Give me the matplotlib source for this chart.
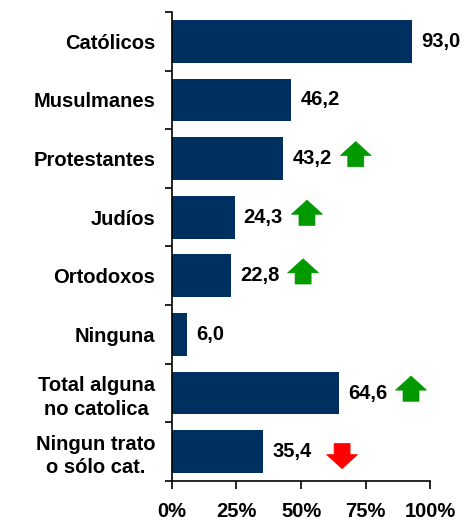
import numpy as np
import matplotlib.pyplot as plt
from matplotlib.patches import Polygon
from matplotlib.ticker import FixedLocator, NullFormatter

plt.rcParams['font.family'] = ['Liberation Sans', 'DejaVu Sans']
plt.rcParams['font.weight'] = 'bold'

categories = ["Católicos", "Musulmanes", "Protestantes", "Judíos", "Ortodoxos",
              "Ninguna", "Total alguna\nno catolica", "Ningun trato\no sólo cat."]
values = [93.0, 46.2, 43.2, 24.3, 22.8, 6.0, 64.6, 35.4]
# +1 up, -1 down, 0 no change marker
trend = [0, 0, 1, 1, 1, 0, 1, -1]
xticks = [0, 25, 50, 75, 100]

BAR = "#00305F"
UP = "#009900"
DOWN = "#FF0000"
FS = 14.5


def arrow(ax, xc, yc, up=True, color=UP):
    # arrow shape in data units: head 12 wide, stem 6.2 wide
    hw, sw = 6.0, 3.1
    hh, sh = 0.24, 0.19
    s = -1 if up else 1  # y axis inverted
    pts = [(xc, yc + s * hh),
           (xc - hw, yc),
           (xc - sw, yc),
           (xc - sw, yc - s * sh),
           (xc + sw, yc - s * sh),
           (xc + sw, yc),
           (xc + hw, yc)]
    ax.add_patch(Polygon(pts, closed=True, facecolor=color, edgecolor=color,
                         lw=0.5, zorder=3))


fig = plt.figure(figsize=(4.66, 5.2), dpi=100)
ax = fig.add_axes([0.369, 0.075, 0.554, 0.902])

y = np.arange(len(categories))
ax.barh(y, values, height=0.73, color=BAR, zorder=2)
ax.set_ylim(len(categories) - 0.5, -0.5)
ax.set_xlim(0, 100)

for yi, v, t in zip(y, values, trend):
    ax.text(v + 3.5, yi, f"{v:.1f}".replace(".", ","), va="center", ha="left",
            fontsize=FS, fontweight="bold")
    if t > 0:
        arrow(ax, v + 28, yi - 0.05, up=True, color=UP)
    elif t < 0:
        arrow(ax, v + 30.5, yi + 0.05, up=False, color=DOWN)

# category boundaries get the tick marks, labels sit between them
ax.yaxis.set_major_locator(FixedLocator(np.arange(-0.5, len(categories), 1.0)))
ax.yaxis.set_major_formatter(NullFormatter())
ax.yaxis.set_minor_locator(FixedLocator(y))
ax.set_yticklabels(categories, minor=True, fontsize=FS, fontweight="bold",
                   ha="right", multialignment="center", linespacing=1.3)
ax.tick_params(axis="y", which="minor", length=0, pad=12)
ax.tick_params(axis="y", which="major", length=5, width=1.2, direction="out")

ax.set_xticks(xticks)
ax.set_xticklabels([f"{t}%" for t in xticks], fontsize=FS, fontweight="bold")
ax.tick_params(axis="x", length=6, width=1.2, direction="out", pad=9)

for side in ("top", "right"):
    ax.spines[side].set_visible(False)
for side in ("left", "bottom"):
    ax.spines[side].set_linewidth(1.2)

fig.savefig("out.png", dpi=100)
